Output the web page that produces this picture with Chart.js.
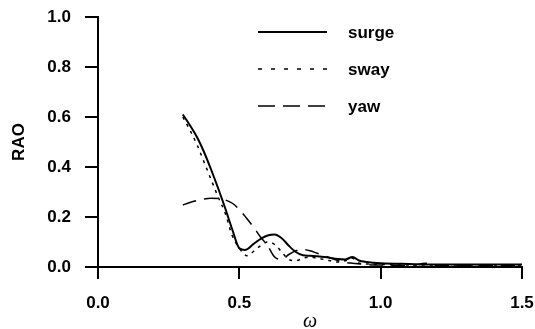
<!DOCTYPE html>
<html>
<head>
<meta charset="utf-8">
<script src="https://cdn.jsdelivr.net/npm/chart.js@4.4.0/dist/chart.umd.min.js"></script>
<style>
  html, body { margin: 0; padding: 0; background: #fff; }
  #wrap { width: 535px; height: 329px; }
</style>
</head>
<body>
<div id="wrap"><canvas id="raoChart" width="535" height="329"></canvas></div>
<script>
// Datos
const seriesNames = ['surge', 'sway', 'yaw'];

const omegaSurge = [0.300, 0.325, 0.350, 0.375, 0.400, 0.425, 0.450, 0.475, 0.500, 0.520, 0.550, 0.575, 0.600, 0.625, 0.650, 0.675, 0.700, 0.725, 0.750, 0.800, 0.850, 0.875, 0.900, 0.925, 0.950, 1.000, 1.100, 1.200, 1.300, 1.400, 1.500];
const surge      = [0.610, 0.567, 0.520, 0.460, 0.390, 0.315, 0.235, 0.150, 0.075, 0.068, 0.092, 0.112, 0.126, 0.130, 0.115, 0.085, 0.060, 0.047, 0.045, 0.040, 0.032, 0.030, 0.040, 0.025, 0.020, 0.015, 0.012, 0.010, 0.010, 0.010, 0.010];

const omegaSway = [0.300, 0.325, 0.350, 0.375, 0.400, 0.425, 0.450, 0.475, 0.500, 0.527, 0.550, 0.575, 0.600, 0.625, 0.650, 0.675, 0.700, 0.725, 0.750, 0.775, 0.800, 0.850, 0.875, 0.900, 0.925, 0.950, 1.000, 1.100, 1.200, 1.300, 1.500];
const sway      = [0.600, 0.548, 0.490, 0.420, 0.350, 0.280, 0.215, 0.125, 0.075, 0.045, 0.062, 0.085, 0.100, 0.090, 0.060, 0.030, 0.025, 0.035, 0.040, 0.035, 0.030, 0.020, 0.025, 0.035, 0.015, 0.012, 0.010, 0.008, 0.008, 0.008, 0.008];

const omegaYaw = [0.300, 0.325, 0.350, 0.375, 0.400, 0.425, 0.450, 0.475, 0.500, 0.525, 0.550, 0.575, 0.600, 0.625, 0.650, 0.675, 0.700, 0.725, 0.750, 0.775, 0.800, 0.825, 0.850, 0.875, 0.900, 0.950, 1.000, 1.100, 1.160, 1.200, 1.300, 1.500];
const yaw      = [0.248, 0.258, 0.266, 0.272, 0.275, 0.274, 0.268, 0.255, 0.230, 0.196, 0.160, 0.120, 0.085, 0.040, 0.030, 0.050, 0.065, 0.070, 0.065, 0.055, 0.045, 0.035, 0.025, 0.018, 0.015, 0.010, 0.008, 0.006, 0.015, 0.006, 0.005, 0.005];

const xTicks = [0.0, 0.5, 1.0, 1.5];
const yTicks = [0.0, 0.2, 0.4, 0.6, 0.8, 1.0];

// Convertir a puntos {x, y}
function toPoints(xs, ys) {
    return xs.map((x, i) => ({ x: x, y: ys[i] }));
}

// Leyenda dibujada dentro del área del gráfico
const legendInside = {
    id: 'legendInside',
    afterDraw(chart) {
        const ctx = chart.ctx;
        const rows = [32, 69, 106];
        const dashes = [[], [4, 9], [17, 8]];
        ctx.save();
        chart.data.datasets.forEach((ds, i) => {
            ctx.beginPath();
            ctx.setLineDash(dashes[i]);
            ctx.lineWidth = ds.borderWidth;
            ctx.strokeStyle = '#000';
            ctx.moveTo(258, rows[i]);
            ctx.lineTo(327, rows[i]);
            ctx.stroke();
            ctx.setLineDash([]);
            ctx.fillStyle = '#000';
            ctx.font = 'bold 17px "Liberation Sans", Arial, sans-serif';
            ctx.textBaseline = 'middle';
            ctx.textAlign = 'left';
            ctx.fillText(ds.label, 348, rows[i] + 1);
        });
        ctx.restore();
    }
};

const ctx = document.getElementById('raoChart').getContext('2d');
const raoChart = new Chart(ctx, {
    type: 'scatter',
    data: {
        datasets: [{
            label: seriesNames[0],
            data: toPoints(omegaSurge, surge),
            borderColor: '#000',
            borderWidth: 2,
            borderDash: []
        }, {
            label: seriesNames[1],
            data: toPoints(omegaSway, sway),
            borderColor: '#000',
            borderWidth: 1.5,
            borderDash: [3, 5]
        }, {
            label: seriesNames[2],
            data: toPoints(omegaYaw, yaw),
            borderColor: '#000',
            borderWidth: 1.5,
            borderDash: [14, 8]
        }].map(ds => Object.assign(ds, { showLine: true, pointRadius: 0, cubicInterpolationMode: 'monotone', fill: false }))
    },
    options: {
        responsive: false,
        animation: false,
        layout: { padding: { top: 17, right: 0, left: 0, bottom: 0 } },
        plugins: {
            legend: { display: false },
            tooltip: { enabled: false }
        },
        scales: {
            x: {
                type: 'linear',
                min: 0,
                max: 1.5,
                afterFit(scale) {
                    scale.height = 62;
                    scale.paddingLeft = 0;
                    scale.paddingRight = 13;
                },
                afterBuildTicks(scale) { scale.ticks = xTicks.map(v => ({ value: v })); },
                grid: { drawOnChartArea: false, drawTicks: true, tickLength: 12, color: '#000', lineWidth: 2 },
                border: { display: true, color: '#000', width: 2 },
                ticks: {
                    color: '#000',
                    padding: 14,
                    maxRotation: 0,
                    font: { family: '"Liberation Sans", Arial, sans-serif', size: 17, weight: 'bold' },
                    callback: v => v.toFixed(1)
                },
                title: {
                    display: true,
                    text: 'ω',
                    color: '#000',
                    padding: 0,
                    font: { family: '"Liberation Serif", "DejaVu Serif", serif', size: 20, style: 'italic', lineHeight: 0.7 }
                }
            },
            y: {
                type: 'linear',
                min: 0,
                max: 1.0,
                afterFit(scale) {
                    scale.width = 98;
                    scale.paddingTop = 0;
                    scale.paddingBottom = 0;
                },
                afterBuildTicks(scale) { scale.ticks = yTicks.map(v => ({ value: v })); },
                grid: { drawOnChartArea: false, drawTicks: true, tickLength: 13, color: '#000', lineWidth: 2 },
                border: { display: true, color: '#000', width: 2 },
                ticks: {
                    color: '#000',
                    padding: 14,
                    font: { family: '"Liberation Sans", Arial, sans-serif', size: 17, weight: 'bold' },
                    callback: v => v.toFixed(1)
                },
                title: {
                    display: true,
                    text: 'RAO',
                    color: '#000',
                    padding: { top: 9, bottom: 0 },
                    font: { family: '"Liberation Sans", Arial, sans-serif', size: 17, weight: 'bold' }
                }
            }
        }
    },
    plugins: [legendInside]
});
</script>
</body>
</html>
